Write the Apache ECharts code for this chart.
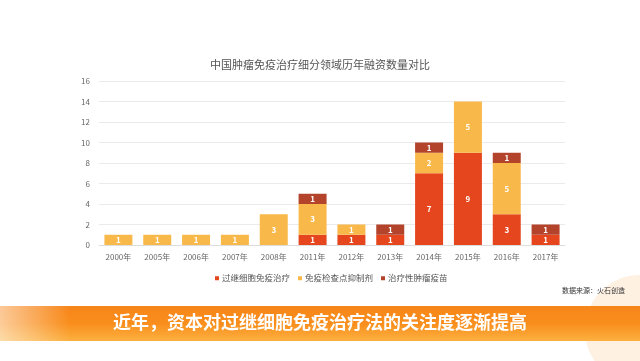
<!DOCTYPE html>
<html><head><meta charset="utf-8">
<script src="https://cdn.jsdelivr.net/npm/echarts@6/dist/echarts.min.js"></script>
<style>html,body{margin:0;padding:0;background:#fff}#c{width:640px;height:361px}</style>
</head><body><div id="c"></div>
<script>
const categories = ['2000年','2005年','2006年','2007年','2008年','2011年','2012年','2013年','2014年','2015年','2016年','2017年'];
const seriesNames = ['过继细胞免疫治疗','免疫检查点抑制剂','治疗性肿瘤疫苗'];
const adoptive = [0,0,0,0,0,1,1,1,7,9,3,1];
const checkpoint = [1,1,1,1,3,3,1,0,2,5,5,0];
const vaccine = [0,0,0,0,0,1,0,1,1,0,1,1];
const yTicks = [0,2,4,6,8,10,12,14,16];
const titleText = '中国肿瘤免疫治疗细分领域历年融资数量对比';
const sourceText = '数据来源：火石创造';
const bannerText = '近年，资本对过继细胞免疫治疗法的关注度逐渐提高';
const colors = ['#E5461D','#F9B94A','#B3432B'];
const font = '"Noto Sans CJK SC", "Noto Sans", sans-serif';

const chart = echarts.init(document.getElementById('c'), null, {renderer:'canvas'});
const lbl = {show:true, position:'inside', color:'#fff', fontSize:8, fontWeight:'bold', fontFamily:font,
  formatter: p => p.value ? p.value : ''};
const mk = (name, data, i) => ({name, type:'bar', stack:'s', data, barWidth:28,
  itemStyle:{color:colors[i]}, label:lbl, emphasis:{disabled:true}});
chart.setOption({
  animation:false,
  textStyle:{fontFamily:font},
  title:{text:titleText, left:'center', top:54, textStyle:{fontSize:11, fontWeight:'normal', color:'#555', fontFamily:font}},
  legend:{data:seriesNames, top:269, left:210, itemWidth:4, itemHeight:4, itemGap:8, icon:'rect',
    textStyle:{fontSize:8.5, color:'#555', fontFamily:font, padding:[0,0,0,-2]}},
  grid:{left:99, right:75, top:81, bottom:116},
  xAxis:{type:'category', data:categories, axisTick:{show:false},
    axisLine:{lineStyle:{color:'#ddd'}}, axisLabel:{fontSize:8, color:'#666', margin:8, fontFamily:font}},
  yAxis:{type:'value', min:0, max:16, interval:2, splitLine:{lineStyle:{color:'#eaeaea'}},
    axisLabel:{fontSize:8, color:'#666', margin:9, fontFamily:font}, axisLine:{show:false}, axisTick:{show:false}},
  series:[mk(seriesNames[0], adoptive, 0), mk(seriesNames[1], checkpoint, 1), mk(seriesNames[2], vaccine, 2)],
  graphic:[
    {type:'circle', shape:{cx:640, cy:330, r:55}, style:{fill:'rgba(253,200,140,0.25)'}, z:-1},
    {type:'rect', shape:{x:0, y:306, width:640, height:35},
      style:{fill:new echarts.graphic.LinearGradient(0,0,0,1,[{offset:0,color:'#F7851A'},{offset:0.5,color:'#F98E1C'},{offset:1,color:'#FBB040'}])}},
    {type:'rect', shape:{x:0, y:306, width:70, height:35},
      style:{fill:new echarts.graphic.LinearGradient(0,0,1,0,[{offset:0,color:'rgba(255,255,255,0.55)'},{offset:1,color:'rgba(255,255,255,0)'}])}},
    {type:'text', left:'center', top:313, style:{text:bannerText, fill:'#fff', fontSize:18, fontWeight:'bold', fontFamily:font}},
    {type:'text', right:15, top:287, style:{text:sourceText, fill:'#333', fontSize:7, fontFamily:font}}
  ]
});
</script></body></html>
